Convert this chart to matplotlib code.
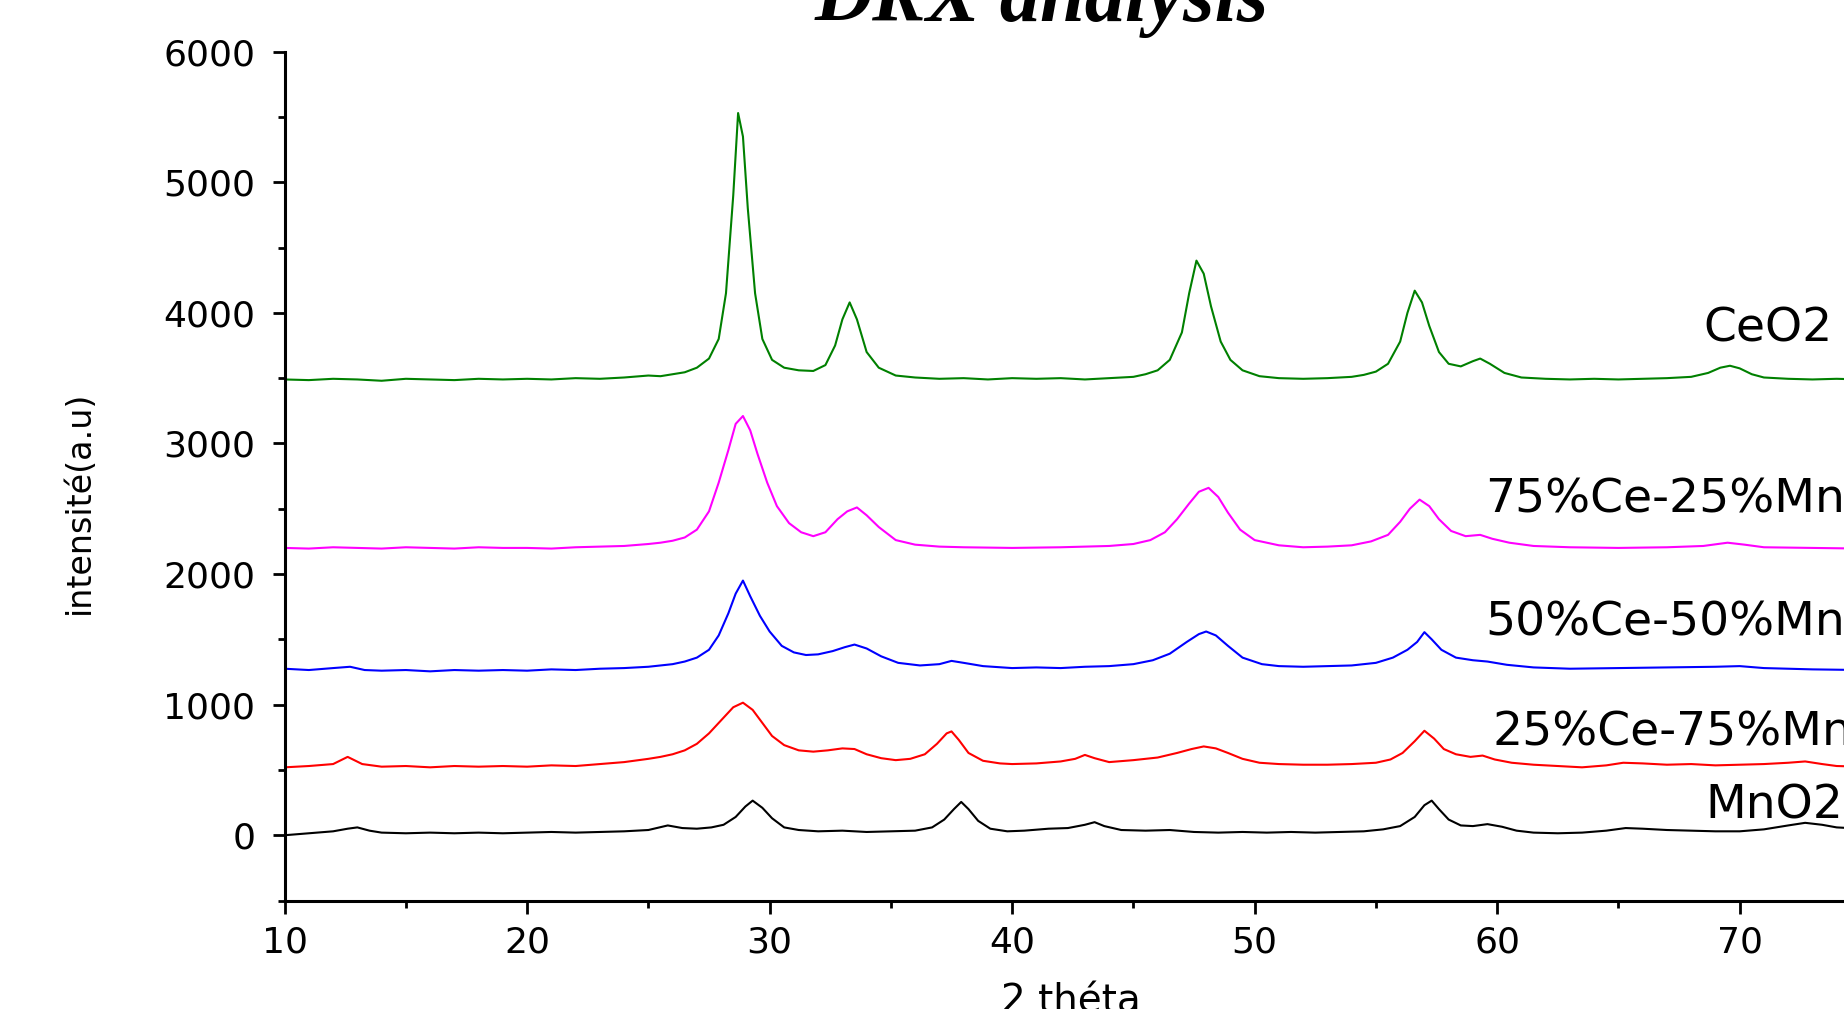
# Diffractogrammes DRX : CeO2, MnO2 et oxydes mixtes
import matplotlib.pyplot as plt
from matplotlib.ticker import MultipleLocator

# CeO2 (vert)
ceo2_x = [10, 11, 12, 13, 14, 15, 16, 17, 18, 19, 20, 21, 22, 23, 24, 25, 25.5, 26, 26.5, 27,
          27.5, 27.9, 28.2, 28.5, 28.7, 28.9, 29.1, 29.4, 29.7, 30.1, 30.6, 31.2, 31.8, 32.3,
          32.7, 33.0, 33.3, 33.6, 34.0, 34.5, 35.2, 36, 37, 38, 39, 40, 41, 42, 43, 44, 45,
          45.5, 46, 46.5, 47.0, 47.3, 47.6, 47.9, 48.2, 48.6, 49.0, 49.5, 50.2, 51, 52, 53, 54,
          54.5, 55, 55.5, 56.0, 56.3, 56.6, 56.9, 57.2, 57.6, 58.0, 58.5, 59.0, 59.3, 59.7,
          60.3, 61, 62, 63, 64, 65, 66, 67, 68, 68.7, 69.2, 69.6, 70.0, 70.5, 71, 72, 73, 74,
          75, 76, 77, 78, 79, 80]
ceo2_y = [3490, 3485, 3495, 3490, 3480, 3495, 3490, 3485, 3495, 3490, 3495, 3490, 3500, 3495,
          3505, 3520, 3515, 3530, 3545, 3580, 3650, 3800, 4150, 4900, 5530, 5350, 4800, 4150,
          3800, 3640, 3580, 3560, 3555, 3600, 3750, 3950, 4080, 3950, 3700, 3580, 3520, 3505,
          3495, 3500, 3490, 3500, 3495, 3500, 3490, 3500, 3510, 3530, 3560, 3640, 3850, 4150,
          4400, 4300, 4050, 3780, 3640, 3560, 3515, 3500, 3495, 3500, 3510, 3525, 3550, 3610,
          3780, 4000, 4170, 4080, 3900, 3700, 3610, 3590, 3630, 3650, 3610, 3540, 3505, 3495,
          3490, 3495, 3490, 3495, 3500, 3510, 3540, 3580, 3595, 3575, 3530, 3505, 3495, 3490,
          3495, 3490, 3485, 3490, 3495, 3490, 3490]

# 75%Ce-25%Mn (magenta)
ce75_x = [10, 11, 12, 13, 14, 15, 16, 17, 18, 19, 20, 21, 22, 23, 24, 25, 25.5, 26, 26.5, 27,
          27.5, 27.9, 28.3, 28.6, 28.9, 29.2, 29.5, 29.9, 30.3, 30.8, 31.3, 31.8, 32.3, 32.8,
          33.2, 33.6, 34.0, 34.5, 35.2, 36, 37, 38, 40, 42, 44, 45, 45.7, 46.3, 46.8, 47.3,
          47.7, 48.1, 48.5, 48.9, 49.4, 50, 51, 52, 53, 54, 54.8, 55.5, 56.0, 56.4, 56.8, 57.2,
          57.6, 58.1, 58.7, 59.3, 59.8, 60.5, 61.5, 63, 65, 67, 68.5, 69.5, 70.2, 71, 73, 75,
          77, 80]
ce75_y = [2200, 2195, 2205, 2200, 2195, 2205, 2200, 2195, 2205, 2200, 2200, 2195, 2205, 2210,
          2215, 2230, 2240, 2255, 2280, 2340, 2480, 2700, 2950, 3150, 3210, 3100, 2920, 2700,
          2520, 2390, 2320, 2290, 2320, 2420, 2480, 2510, 2450, 2360, 2260, 2225, 2210, 2205,
          2200, 2205, 2215, 2230, 2260, 2320, 2420, 2540, 2630, 2660, 2590, 2470, 2340, 2260,
          2220, 2205, 2210, 2220, 2250, 2300, 2400, 2500, 2570, 2520, 2420, 2330, 2290, 2300,
          2270, 2240, 2215, 2205, 2200, 2205, 2215, 2240, 2225, 2205, 2200, 2195, 2200, 2200]

# 50%Ce-50%Mn (bleu)
ce50_x = [10, 11, 12, 12.7, 13.3, 14, 15, 16, 17, 18, 19, 20, 21, 22, 23, 24, 25, 25.5, 26,
          26.5, 27, 27.5, 27.9, 28.3, 28.6, 28.9, 29.2, 29.6, 30.0, 30.5, 31.0, 31.5, 32.0,
          32.6, 33.1, 33.5, 34.0, 34.6, 35.3, 36.2, 37.0, 37.5, 38.0, 38.8, 40, 41, 42, 43, 44,
          45, 45.8, 46.5, 47.2, 47.7, 48.0, 48.4, 48.9, 49.5, 50.3, 51, 52, 53, 54, 55, 55.7,
          56.3, 56.7, 57.0, 57.3, 57.7, 58.3, 59.0, 59.6, 60.4, 61.5, 63, 65, 67, 69, 70, 71,
          73, 75, 77, 80]
ce50_y = [1275, 1265, 1280, 1290, 1265, 1260, 1265, 1255, 1265, 1260, 1265, 1260, 1270, 1265,
          1275, 1280, 1290, 1300, 1310, 1330, 1360, 1420, 1530, 1700, 1850, 1950, 1830, 1680,
          1560, 1450, 1400, 1380, 1385, 1410, 1440, 1460, 1430, 1370, 1320, 1300, 1310, 1335,
          1320, 1295, 1280, 1285, 1280, 1290, 1295, 1310, 1340, 1390, 1480, 1540, 1560, 1530,
          1450, 1360, 1310, 1295, 1290, 1295, 1300, 1320, 1360, 1420, 1480, 1555, 1500, 1420,
          1360, 1340, 1330, 1305, 1285, 1275, 1280, 1285, 1290, 1295, 1280, 1270, 1265, 1270,
          1265]

# 25%Ce-75%Mn (rouge)
ce25_x = [10, 11, 12, 12.6, 13.2, 14, 15, 16, 17, 18, 19, 20, 21, 22, 23, 24, 25, 25.5, 26,
          26.5, 27.0, 27.5, 28.0, 28.5, 28.9, 29.3, 29.7, 30.1, 30.6, 31.2, 31.8, 32.4, 33.0,
          33.5, 34.0, 34.6, 35.2, 35.8, 36.4, 36.9, 37.3, 37.5, 37.8, 38.2, 38.8, 39.5, 40, 41,
          42, 42.6, 43.0, 43.4, 44, 45, 46, 46.8, 47.4, 47.9, 48.4, 48.9, 49.5, 50.2, 51, 52,
          53, 54, 55, 55.6, 56.1, 56.6, 57.0, 57.4, 57.8, 58.3, 58.9, 59.4, 59.9, 60.6, 61.5,
          62.5, 63.5, 64.5, 65.2, 66, 67, 68, 69, 70, 71, 72, 72.7, 73.4, 74, 75, 77, 80]
ce25_y = [520, 530, 545, 600, 545, 525, 530, 520, 530, 525, 530, 525, 535, 530, 545, 560, 585,
          600, 620, 650, 700, 780, 880, 980, 1015, 960, 860, 760, 690, 650, 640, 650, 665, 660,
          620, 590, 575, 585, 620, 700, 780, 795, 730, 630, 570, 550, 545, 550, 565, 585, 615,
          590, 560, 575, 595, 630, 660, 680, 665, 630, 585, 555, 545, 540, 540, 545, 555, 580,
          630, 720, 800, 740, 660, 620, 600, 610, 580, 555, 540, 530, 520, 535, 555, 550, 540,
          545, 535, 540, 545, 555, 565, 545, 530, 525, 520, 525]

# MnO2 (noir)
mno2_x = [10, 11, 12, 12.6, 13.0, 13.5, 14, 15, 16, 17, 18, 19, 20, 21, 22, 23, 24, 25, 25.8,
          26.4, 27, 27.6, 28.1, 28.6, 29.0, 29.3, 29.7, 30.1, 30.6, 31.2, 32, 33, 34, 35, 36,
          36.7, 37.2, 37.6, 37.9, 38.2, 38.6, 39.1, 39.8, 40.5, 41.5, 42.3, 43.0, 43.4, 43.8,
          44.5, 45.5, 46.5, 47.5, 48.5, 49.5, 50.5, 51.5, 52.5, 53.5, 54.5, 55.3, 56.0, 56.6,
          57.0, 57.3, 57.6, 58.0, 58.5, 59.0, 59.6, 60.2, 60.8, 61.5, 62.5, 63.5, 64.5, 65.3,
          66.0, 67, 68, 69, 70, 71, 72, 72.7, 73.4, 74, 75, 76, 78, 80]
mno2_y = [0, 15, 30, 50, 60, 35, 20, 15, 20, 15, 20, 15, 20, 25, 20, 25, 30, 40, 75, 55, 50,
          60, 80, 140, 220, 265, 210, 130, 60, 40, 30, 35, 25, 30, 35, 60, 120, 200, 255, 200,
          110, 50, 30, 35, 50, 55, 80, 100, 70, 40, 35, 40, 25, 20, 25, 20, 25, 20, 25, 30, 45,
          70, 140, 230, 265, 200, 120, 75, 70, 85, 65, 35, 20, 15, 20, 35, 55, 50, 40, 35, 30,
          30, 45, 75, 95, 80, 60, 50, 45, 40, 40]

noms = ["CeO2", "75%Ce-25%Mn", "50%Ce-50%Mn", "25%Ce-75%Mn", "MnO2"]
couleurs = ["#008000", "#ff00ff", "#0000ff", "#ff0000", "#000000"]
series = [(ceo2_x, ceo2_y), (ce75_x, ce75_y), (ce50_x, ce50_y), (ce25_x, ce25_y), (mno2_x, mno2_y)]

# position des étiquettes (x, y en données)
etiq_x = [68.5, 59.5, 59.5, 59.8, 68.6]
etiq_y = [3875, 2567, 1625, 785, 225]

fig = plt.figure(figsize=(18.44, 10.09), dpi=100)
# le graphe d'origine est coupé à droite : l'axe dépasse la figure
ax = fig.add_axes([0.15434, 0.1075, 0.9206, 0.8413])

for (x, y), c in zip(series, couleurs):
    ax.plot(x, y, color=c, linewidth=1.5)

for nom, xe, ye in zip(noms, etiq_x, etiq_y):
    ax.text(xe, ye, nom, fontsize=34, ha="left", va="center", color="black",
            family="DejaVu Sans")

ax.set_xlim(10, 80)
ax.set_ylim(-500, 6000)
ax.xaxis.set_major_locator(MultipleLocator(10))
ax.xaxis.set_minor_locator(MultipleLocator(5))
ax.yaxis.set_major_locator(MultipleLocator(1000))
ax.yaxis.set_minor_locator(MultipleLocator(500))
ax.set_yticks([0, 1000, 2000, 3000, 4000, 5000, 6000])

for s in ["top", "right"]:
    ax.spines[s].set_visible(False)
for s in ["left", "bottom"]:
    ax.spines[s].set_linewidth(2.2)

ax.tick_params(which="major", direction="out", length=9, width=2, labelsize=26, pad=9)
ax.tick_params(axis="y", which="major", pad=12)
ax.tick_params(which="minor", direction="out", length=5, width=2)

# titre, axes (coupés dans l'image d'origine)
fig.text(0.565, 0.979, "DRX analysis", fontsize=58, fontweight="bold", fontstyle="italic",
         family="Liberation Serif", ha="center", va="baseline")
fig.text(0.581, 0.026, "2 théta", fontsize=28, ha="center", va="top")
fig.text(0.043, 0.5025, "intensité(a.u)", fontsize=24, rotation=90, ha="center", va="center")

fig.savefig("out.png", dpi=100)
